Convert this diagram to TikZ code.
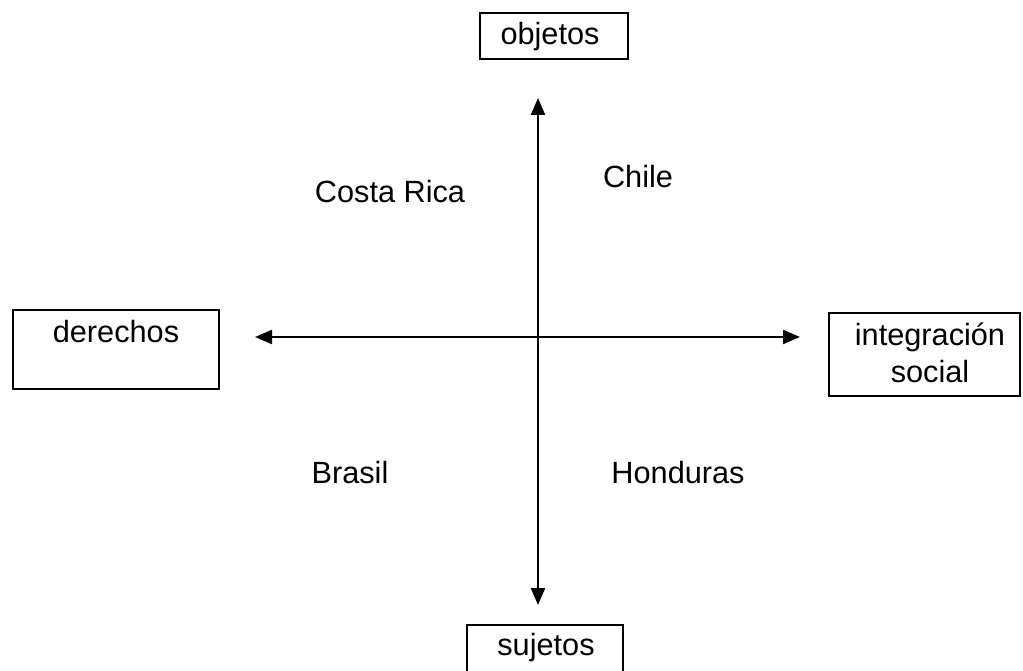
\documentclass[tikz,border=0pt]{standalone}
\usepackage{fontspec}
\setmainfont{Liberation Sans}
\usetikzlibrary{arrows.meta}
\begin{document}
\begin{tikzpicture}[x=1pt,y=-1pt,
  lbl/.style={font=\fontsize{30.7}{37}\selectfont, inner sep=0pt, anchor=base},
  boxst/.style={draw=black, line width=2.2pt, inner sep=0pt, rectangle},
  axis/.style={line width=2.2pt, {Triangle[length=17pt,width=14pt]}-{Triangle[length=17pt,width=14pt]}}]
\useasboundingbox (0,0) rectangle (1023,671);
% boxes
\node[boxst, minimum width=148pt, minimum height=46pt] (objbox) at (554,36) {};
\node[boxst, minimum width=206pt, minimum height=79pt] (derbox) at (116,349.5) {};
\node[boxst, minimum width=191pt, minimum height=83pt] (intbox) at (924.5,354.5) {};
\node[boxst, minimum width=156pt, minimum height=48pt] (sujbox) at (545,649) {};
% box texts
\node[lbl] (obj) at (550,45) {objetos};
\node[lbl] (der) at (116,342) {derechos};
\node[lbl] (int1) at (930,345) {integración};
\node[lbl] (int2) at (930,382) {social};
\node[lbl] (suj) at (546,655) {sujetos};
% quadrant labels
\node[lbl] (cr) at (390,203) {Costa Rica};
\node[lbl] (ch) at (638,188) {Chile};
\node[lbl] (br) at (350,483) {Brasil};
\node[lbl] (ho) at (678,483) {Honduras};
% axes
\coordinate (top) at (538,98);
\coordinate (bot) at (538,605);
\coordinate (left) at (255,337);
\coordinate (right) at (800,337);
\draw[axis] (top) -- (bot);
\draw[axis] (left) -- (right);
\end{tikzpicture}
\end{document}
